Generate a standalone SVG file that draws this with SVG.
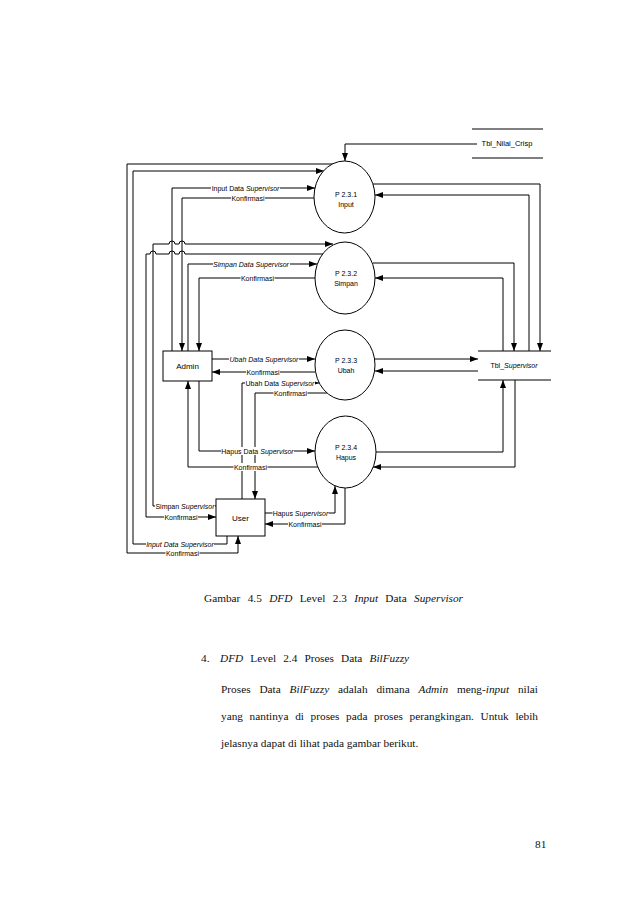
<svg xmlns="http://www.w3.org/2000/svg" width="638" height="903" viewBox="0 0 638 903">
<defs>
<marker id="ah" viewBox="0 0 8 6" refX="8" refY="3" markerWidth="8" markerHeight="6" markerUnits="userSpaceOnUse" orient="auto">
<path d="M0,0 L8,3 L0,6 Z" fill="#000"/>
</marker>
<style>
.c{fill:none;stroke:#000;stroke-width:1}
.a{marker-end:url(#ah)}
.n{fill:#fff;stroke:#000;stroke-width:1}
.t{font-family:"Liberation Sans",Arial,sans-serif;font-size:7px;fill:#000;text-anchor:middle}
.tn{font-family:"Liberation Sans",Arial,sans-serif;font-size:8px;fill:#000;text-anchor:middle}
.bg{fill:#fff}
.i{font-style:italic}
.p{font-family:"Liberation Serif","Times New Roman",serif;font-size:11.3px;fill:#111}
</style>
</defs>
<rect width="638" height="903" fill="#fff"/>
<g id="connectors">
<path class="c a" d="M477,144 H345 V161"/>
<path class="c a" d="M172,351 V188 H315"/>
<path class="c a" d="M314,198 H182 V351"/>
<path class="c a" d="M188,351 V264 H317"/>
<path class="c a" d="M315,278 H199 V351"/>
<path class="c a" d="M212,359 H315"/>
<path class="c a" d="M315,372 H212"/>
<path class="c a" d="M199,381 V451 H315"/>
<path class="c a" d="M318,467 H188 V381"/>
<path class="c a" d="M242,499 V383 H319"/>
<path class="c a" d="M327,393 H255 V499"/>
<path class="c a" d="M265,513 H335 V486"/>
<path class="c a" d="M345,488 V524 H265"/>
<path class="c a" d="M216,506 H153 V244 H169 a3,3 0 0 1 6,0 H179 a3,3 0 0 1 6,0 H333"/>
<path class="c a" d="M323,254 H185 a3,3 0 0 0 -6,0 H175 a3,3 0 0 0 -6,0 H156 a3,3 0 0 0 -6,0 H146 V517 H216"/>
<path class="c a" d="M227,536 V544 H133 V171 H324"/>
<path class="c a" d="M333,164 H127 V553 H238 V536"/>
<path class="c a" d="M373,184 H540 V351"/>
<path class="c a" d="M529,351 V195 H375"/>
<path class="c a" d="M373,263 H514 V351"/>
<path class="c a" d="M503,351 V278 H375"/>
<path class="c a" d="M374,359 H478"/>
<path class="c a" d="M478,371 H375"/>
<path class="c a" d="M375,452 H503 V380"/>
<path class="c a" d="M515,380 V467 H373"/>
</g>
<g id="labels">
<rect class="bg" x="211" y="184" width="69" height="8"/><text class="t" x="245.5" y="190.5">Input Data <tspan class="i">Supervisor</tspan></text>
<rect class="bg" x="231" y="194" width="34" height="8"/><text class="t" x="248" y="200.5">Konfirmasi</text>
<rect class="bg" x="213" y="260" width="77" height="8"/><text class="t i" x="251" y="266.5">Simpan Data Supervisor</text>
<rect class="bg" x="240.5" y="274" width="34" height="8"/><text class="t" x="257.5" y="280.5">Konfirmasi</text>
<rect class="bg" x="229" y="355" width="70" height="8"/><text class="t i" x="264" y="361.5">Ubah Data Supervisor</text>
<rect class="bg" x="246" y="368" width="34" height="8"/><text class="t" x="263" y="374.5">Konfirmasi</text>
<rect class="bg" x="245" y="379" width="70" height="8"/><text class="t" x="280" y="385.5">Ubah Data <tspan class="i">Supervisor</tspan></text>
<rect class="bg" x="273.5" y="389" width="34" height="8"/><text class="t" x="290.5" y="395.5">Konfirmasi</text>
<rect class="bg" x="221" y="447" width="73" height="8"/><text class="t" x="257.5" y="453.5">Hapus Data <tspan class="i">Supervisor</tspan></text>
<rect class="bg" x="233.5" y="463" width="34" height="8"/><text class="t" x="250.5" y="469.5">Konfirmasi</text>
<rect class="bg" x="155" y="502" width="60" height="8"/><text class="t" x="185" y="508.5">Simpan <tspan class="i">Supervisor</tspan></text>
<rect class="bg" x="164" y="513" width="34" height="8"/><text class="t" x="181" y="519.5">Konfirmasi</text>
<rect class="bg" x="146" y="540" width="68" height="8"/><text class="t i" x="180" y="546.5">Input Data Supervisor</text>
<rect class="bg" x="165.5" y="549" width="34" height="8"/><text class="t" x="182.5" y="555.5">Konfirmasi</text>
<rect class="bg" x="272.5" y="509" width="56" height="8"/><text class="t" x="300.5" y="515.5">Hapus <tspan class="i">Supervisor</tspan></text>
<rect class="bg" x="288" y="520" width="34" height="8"/><text class="t" x="305" y="526.5">Konfirmasi</text>
</g>
<g id="p231"><ellipse class="n" cx="344.5" cy="197" rx="30.5" ry="36"/><text class="t" x="346" y="196.5">P 2.3.1</text><text class="t" x="346" y="206.5">Input</text></g>
<g id="p232"><ellipse class="n" cx="345" cy="278" rx="30" ry="36"/><text class="t" x="346" y="275.5">P 2.3.2</text><text class="t" x="346" y="285.5">Simpan</text></g>
<g id="p233"><ellipse class="n" cx="345" cy="365" rx="30" ry="35"/><text class="t" x="346" y="362.5">P 2.3.3</text><text class="t" x="346" y="372.5">Ubah</text></g>
<g id="p234"><ellipse class="n" cx="345.5" cy="452" rx="30.5" ry="36"/><text class="t" x="346" y="449.5">P 2.3.4</text><text class="t" x="346" y="459.5">Hapus</text></g>
<g id="admin"><rect class="n" x="163" y="351" width="49" height="30"/><text class="tn" x="187.5" y="369">Admin</text></g>
<g id="user"><rect class="n" x="216" y="499" width="49" height="37"/><text class="tn" x="240.5" y="520.5">User</text></g>
<g id="tbl_supervisor"><path class="c" d="M478,351 H551 M478,380 H551"/><text class="t" x="514" y="367.5">Tbl_<tspan class="i">Supervisor</tspan></text></g>
<g id="tbl_nilai_crisp"><path class="c" d="M472,129 H543 M472,158 H543"/><text class="t" x="507" y="146" style="font-size:7.5px">Tbl_Nilai_Crisp</text></g>
<g id="page-text">
<text class="p" x="204" y="602" style="word-spacing:4.5px">Gambar 4.5 <tspan class="i">DFD</tspan> Level 2.3 <tspan class="i">Input</tspan> Data <tspan class="i">Supervisor</tspan></text>
<text class="p" x="201" y="662">4.</text>
<text class="p" x="220" y="662" style="word-spacing:4.3px"><tspan class="i">DFD</tspan> Level 2.4 Proses Data <tspan class="i">BilFuzzy</tspan></text>
<text class="p" x="221" y="693" textLength="317" lengthAdjust="spacing" style="word-spacing:6px">Proses Data <tspan class="i">BilFuzzy</tspan> adalah dimana <tspan class="i">Admin</tspan> meng-<tspan class="i">input</tspan> nilai</text>
<text class="p" x="221" y="720" textLength="317" lengthAdjust="spacing" style="word-spacing:3.8px">yang nantinya di proses pada proses perangkingan. Untuk lebih</text>
<text class="p" x="221" y="747">jelasnya dapat di lihat pada gambar berikut.</text>
<text class="p" x="535" y="848">81</text>
</g>
</svg>
